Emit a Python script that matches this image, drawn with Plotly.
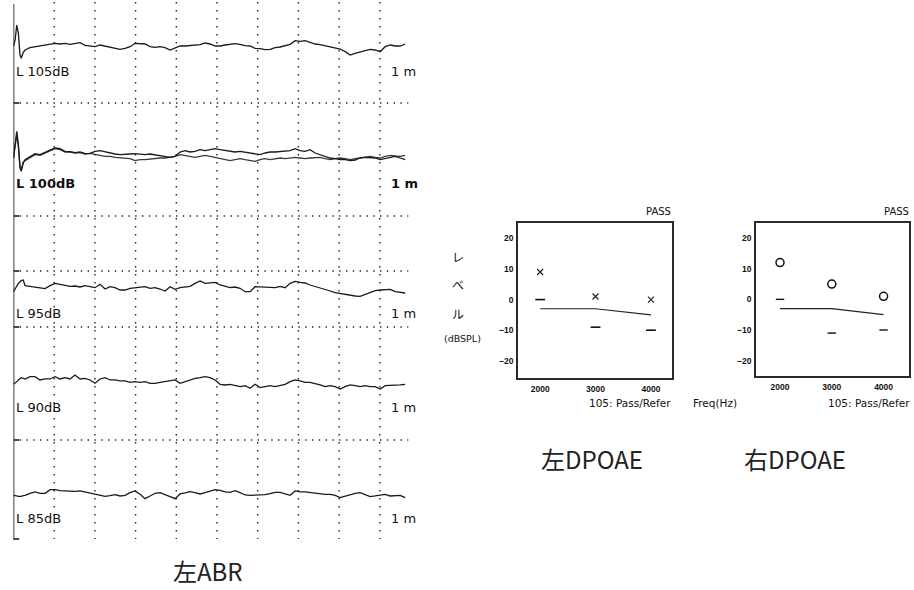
import plotly.graph_objects as go

W, H = 914, 590

# ---------------- ABR data (amplitudes, arbitrary units; 3 units = 1 px) -------------
onset_t = [0.0, 0.04, 0.08, 0.12, 0.16, 0.19, 0.24]   # ms
T0, DT = 0.283, 0.1229                                  # body sampling (ms)

abr_labels = ["L 105dB", "L 100dB", "L 95dB", "L 90dB", "L 85dB"]

onset_105 = [0, 18, 63, 38, -27, -37, -19]
body_105 = [-12, -5, -2, 1, 4, 5, 8, 6, 8, 5, 8, 10, 2, 0, -2, 3, 0, -4, -5, -10,
            -7, -2, 8, 8, 6, -2, -4, -2, -5, -12, -5, 0, 0, 1, 2, 4, 9, 6, 0, 0,
            3, 5, 7, 5, 1, 0, -7, -8, -11, -10, -5, -3, 2, 5, 16, 14, 16, 10, 6, 4,
            1, -2, -5, -9, -17, -27, -22, -17, -14, -10, -12, -17, -2, 3, 0, 0, 6]

onset_100a = [0, 50, 80, 40, -30, -40, -15]
body_100a = [-5, 5, 13, 10, 16, 22, 30, 28, 20, 19, 16, 18, 13, 14, 20, 22, 18, 15, 12, 10,
             12, 12, 13, 12, 10, 12, 10, 8, 5, 2, 5, 18, 22, 18, 20, 25, 22, 25, 28, 25,
             22, 20, 18, 20, 18, 15, 12, 10, 15, 18, 18, 20, 20, 22, 28, 22, 20, 25, 15, 10,
             5, 0, -2, -5, -5, -8, -6, 0, 2, 0, 0, -5, -2, 2, 5, 0, -5]

onset_100b = [0, 45, 70, 35, -25, -35, -12]
body_100b = [-8, 2, 10, 8, 14, 20, 28, 25, 18, 18, 15, 16, 12, 14, 10, 8, 5, 5, 2, 0,
             0, -2, -8, -5, -5, -3, -2, 0, 0, 2, 5, 10, 8, 5, 2, 5, 8, 5, 2, -2,
             -5, -8, -5, -2, -5, -8, -10, -5, -2, -5, -2, 0, -2, 0, 2, 0, -2, 0, 2, 2,
             -2, -5, -2, 0, -2, -5, -2, 0, 2, 5, 2, 0, 5, 8, 6, 5, 8]

onset_95 = [-8, 2, 12, 17, 22, 25, 27]
body_95 = [10, 8, 6, 2, 1, 10, 17, 14, 12, 8, 9, 6, 10, 6, 4, 14, 0, 7, 4, -3,
           -3, 2, 4, 4, 7, 2, 4, 0, -6, 7, -1, 4, 6, 8, 17, 24, 17, 19, 20, 12,
           7, 4, 6, 2, -8, -8, 7, 6, 6, 4, 4, 8, 4, 17, 23, 20, 18, 12, 8, 2,
           -1, -6, -11, -14, -17, -19, -21, -22, -17, -10, -5, -3, -2, -1, -8, -11, -12]

onset_90 = [-3, 0, 5, 10, 13, 17, 15]
body_90 = [13, 20, 20, 10, 13, 13, 20, 13, 17, 13, 25, 13, 15, 10, 0, 13, 17, 10, 10, 7,
           7, 3, 5, 3, 5, 0, 0, 3, 5, 7, 10, 0, 5, 10, 15, 17, 20, 17, 10, -3,
           -5, -3, -7, -10, -7, -15, -3, -13, -10, -7, -10, -7, -3, 5, 10, 7, 3, 3, 0, -5,
           -10, -7, -10, -17, -10, -5, -7, -10, -7, -10, -10, -17, -7, -7, -5, -5, -3]

onset_85 = [-3, -3, -5, -6, -7, -6, -4]
body_85 = [-3, 3, 7, 3, 3, 14, 14, 11, 10, 8, 9, 10, 7, 2, 0, -2, -6, -4, -1, -5,
           -3, 5, 10, 0, -13, -5, 3, 5, 0, -7, -13, 1, 4, 8, 5, 1, 5, 9, 14, 12,
           7, 6, 11, 5, -2, -3, -3, -3, -1, 2, 6, 6, 2, -3, 10, 7, 7, 5, 3, 3,
           0, 0, -3, -10, -5, 0, 3, 5, 0, -7, -5, -3, 0, -5, -3, -3, -10]

# channel baselines of the stacked display (screen rows)
abr_rows = [46, 158, 289, 383.3, 494.3]
label_rows = [71, 183, 313, 407, 518]
grid_ms = [1, 2, 3, 4, 5, 6, 7, 8, 9]
grid_rows = [103, 216, 271, 327, 440]
tick_rows = [103, 216, 271, 327, 440, 539]

# ---------------- DPOAE data ----------------
freqs = [2000, 3000, 4000]
left_dp = [9, 1, 0]
left_noise = [0, -9, -10]
right_dp = [12, 5, 1]
right_noise = [0, -11, -10]
crit_freqs = [2000, 3000, 4000]
crit_level = [-3, -3, -5]

fig = go.Figure()

def series(onset, body):
    t = list(onset_t) + [T0 + DT * i for i in range(len(body))]
    v = list(onset) + list(body)
    return t, v

traces = [
    (onset_105, body_105, 0, "#1a1a1a"),
    (onset_100b, body_100b, 1, "#3a3a3a"),
    (onset_100a, body_100a, 1, "#1a1a1a"),
    (onset_95, body_95, 2, "#1a1a1a"),
    (onset_90, body_90, 3, "#1a1a1a"),
    (onset_85, body_85, 4, "#1a1a1a"),
]
for on, bd, row, col in traces:
    t, v = series(on, bd)
    base = abr_rows[row]
    fig.add_trace(go.Scatter(x=t, y=[base - a / 3.0 for a in v], mode="lines",
                             line=dict(color=col, width=1.3), xaxis="x", yaxis="y",
                             showlegend=False, hoverinfo="skip"))

shapes = []
for g in grid_ms:
    shapes.append(dict(type="line", xref="x", yref="y", x0=g, x1=g, y0=2, y1=539,
                       line=dict(color="#222", width=1.4, dash="1.4px,6.6px")))
for r in grid_rows:
    shapes.append(dict(type="line", xref="x", yref="y", x0=0.15, x1=9.7, y0=r, y1=r,
                       line=dict(color="#222", width=1.4, dash="1.4px,5.4px")))
shapes.append(dict(type="line", xref="x", yref="y", x0=0, x1=0, y0=4, y1=540,
                   line=dict(color="#111", width=1.6)))
for r in tick_rows:
    shapes.append(dict(type="line", xref="x", yref="y", x0=0, x1=0.14, y0=r, y1=r,
                       line=dict(color="#111", width=1.3)))

# DPOAE traces
fig.add_trace(go.Scatter(x=crit_freqs, y=crit_level, mode="lines", xaxis="x2", yaxis="y2",
                         line=dict(color="#222", width=1.2), showlegend=False))
fig.add_trace(go.Scatter(x=freqs, y=left_dp, mode="markers", xaxis="x2", yaxis="y2",
                         marker=dict(symbol="x-thin", size=6, line=dict(color="#222", width=1.2)),
                         showlegend=False))
fig.add_trace(go.Scatter(x=freqs, y=left_noise, mode="markers", xaxis="x2", yaxis="y2",
                         marker=dict(symbol="line-ew", size=7, line=dict(color="#111", width=1.6)),
                         showlegend=False))
fig.add_trace(go.Scatter(x=crit_freqs, y=crit_level, mode="lines", xaxis="x3", yaxis="y3",
                         line=dict(color="#222", width=1.2), showlegend=False))
fig.add_trace(go.Scatter(x=freqs, y=right_dp, mode="markers", xaxis="x3", yaxis="y3",
                         marker=dict(symbol="circle-open", size=8, color="#111",
                                     line=dict(color="#111", width=1.5)),
                         showlegend=False))
fig.add_trace(go.Scatter(x=freqs, y=right_noise, mode="markers", xaxis="x3", yaxis="y3",
                         marker=dict(symbol="line-ew", size=6, line=dict(color="#111", width=1.4)),
                         showlegend=False))

tickfont = dict(family="Liberation Sans, Arial", size=8.5, color="#111", weight="bold")
box = dict(showline=True, mirror=True, linecolor="#2a2a2a", linewidth=1.5,
           showgrid=False, zeroline=False, ticks="", tickfont=tickfont)

def px_x(a, b):
    return [a / W, b / W]

def px_y(top, bottom):
    return [1 - bottom / H, 1 - top / H]

fig.update_layout(
    width=W, height=H, margin=dict(l=0, r=0, t=0, b=0),
    paper_bgcolor="white", plot_bgcolor="rgba(0,0,0,0)",
    shapes=shapes,
    xaxis=dict(domain=px_x(13.5, 420.5), range=[0, 10], visible=False),
    yaxis=dict(domain=[0, 1], range=[H, 0], visible=False),
    xaxis2=dict(domain=px_x(518, 672), range=[1600, 4380], anchor="y2",
                tickvals=[2000, 3000, 4000], ticklabelstandoff=2, **box),
    yaxis2=dict(domain=px_y(223, 378), range=[-25.6, 25], anchor="x2",
                tickvals=[-20, -10, 0, 10, 20], ticklabelstandoff=1, **box),
    xaxis3=dict(domain=px_x(756, 909), range=[1536, 4491], anchor="y3",
                tickvals=[2000, 3000, 4000], ticklabelstandoff=2, **box),
    yaxis3=dict(domain=px_y(223, 376), range=[-25, 24.9], anchor="x3",
                tickvals=[-20, -10, 0, 10, 20], ticklabelstandoff=1, **box),
)

ann = []
def text(s, x, y, size=12, xanchor="left", family="DejaVu Sans", color="#111",
         weight="normal", yanchor="middle"):
    ann.append(dict(text=s, x=x / W, y=1 - y / H, xref="paper", yref="paper",
                    xanchor=xanchor, yanchor=yanchor, showarrow=False, borderpad=0,
                    font=dict(family=family, size=size, color=color, weight=weight)))

for i, (lab, ly) in enumerate(zip(abr_labels, label_rows)):
    w = "bold" if i == 1 else "normal"
    text(lab, 15, ly, size=13, weight=w)
    text("1 m", 390, ly, size=13, weight=w)

small = "DejaVu Sans"
text("PASS", 672, 211, size=10, xanchor="right", family=small)
text("PASS", 910, 211, size=10, xanchor="right", family=small)
text("105: Pass/Refer", 672, 403, size=10.5, xanchor="right", family=small)
text("105: Pass/Refer", 911, 403, size=10.5, xanchor="right", family=small)
text("Freq(Hz)", 715, 403, size=10.5, xanchor="center", family=small)
jp = "Noto Sans CJK JP"
text("レ", 458, 256, size=12, xanchor="center", family=jp)
text("ベ", 458, 284, size=12, xanchor="center", family=jp)
text("ル", 458, 313, size=12, xanchor="center", family=jp)
text("(dBSPL)", 462, 338, size=9.5, xanchor="center", family=small)
text("左DPOAE", 592, 458, size=24, xanchor="center", family=jp, color="#222")
text("右DPOAE", 795, 458, size=24, xanchor="center", family=jp, color="#222")
text("左ABR", 208, 589, size=24, xanchor="center", family=jp, color="#222", yanchor="bottom")

fig.update_layout(annotations=ann)
fig.write_html("out.html")
